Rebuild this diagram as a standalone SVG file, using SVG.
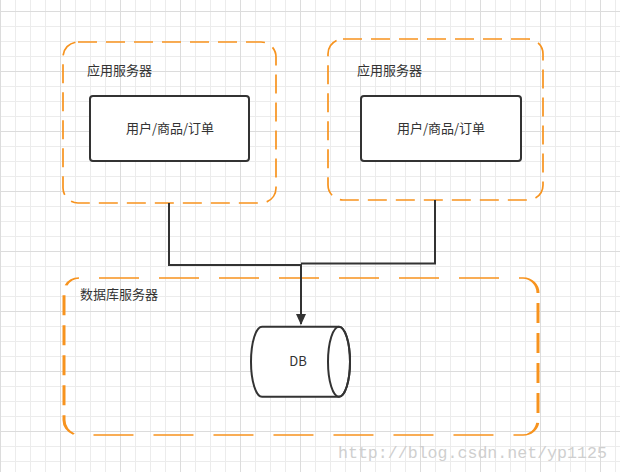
<svg xmlns="http://www.w3.org/2000/svg" width="620" height="472" viewBox="0 0 620 472">
<style>
.lbl{font-family:"Noto Sans CJK SC","Liberation Sans",sans-serif;font-size:13px;fill:#333}
.grp{fill:none;stroke:#f7931e;stroke-width:1.7;stroke-dasharray:19 9}
.node{fill:#fff;stroke:#333;stroke-width:2}
.edge{fill:none;stroke:#333;stroke-width:2}
</style>
<defs>
<pattern id="grid" x="0" y="11" width="60" height="60" patternUnits="userSpaceOnUse">
<path d="M15.5 0V60M30.5 0V60M45.5 0V60M0 15.5H60M0 30.5H60M0 45.5H60" stroke="#ececec" stroke-width="1" fill="none"/>
<path d="M0.5 0V60M0 0.5H60" stroke="#dcdcdc" stroke-width="1" fill="none"/>
</pattern>
<marker id="arr" markerWidth="12" markerHeight="12" refX="10" refY="5" orient="auto" markerUnits="userSpaceOnUse" viewBox="0 0 12 10">
<path d="M0 0L11 5L0 10Z" fill="#333"/>
</marker>
</defs>
<rect width="620" height="472" fill="#fff"/>
<rect width="620" height="472" fill="url(#grid)"/>

<g id="app-server-1">
<rect class="grp" x="63" y="42" width="213" height="161" rx="15" ry="15"/>
<text class="lbl" x="87" y="75">应用服务器</text>
</g>
<g id="app-node-1">
<rect class="node" x="90" y="96" width="159" height="65" rx="3"/>
<text class="lbl" x="170" y="133" text-anchor="middle">用户/商品/订单</text>
</g>

<g id="app-server-2">
<rect class="grp" x="328" y="39" width="215" height="161" rx="15" ry="15"/>
<text class="lbl" x="357" y="75">应用服务器</text>
</g>
<g id="app-node-2">
<rect class="node" x="361" y="96" width="160" height="65" rx="3"/>
<text class="lbl" x="441" y="133" text-anchor="middle">用户/商品/订单</text>
</g>

<g id="db-server">
<g transform="scale(2,1)">
<rect x="32" y="278" width="237" height="157" rx="7.5" ry="15" fill="none" stroke="#f7931e" stroke-width="1.5" stroke-dasharray="20 10" stroke-dashoffset="-10"/>
</g>
<text class="lbl" x="80" y="299">数据库服务器</text>
</g>

<g id="db">
<path class="node" d="M262 326.7H339A11 35 0 0 1 339 396.7H262A11 35 0 0 1 262 326.7Z"/>
<ellipse cx="339" cy="361.7" rx="11" ry="35" fill="none" stroke="#333" stroke-width="2"/>
<text class="lbl" x="298" y="366" text-anchor="middle">DB</text>
</g>

<g id="connectors">
<path class="edge" d="M169 203V265H301V324" marker-end="url(#arr)"/>
<path class="edge" d="M435 200V263.5H301"/>
</g>

<text x="338" y="458" font-family="Liberation Mono,monospace" font-size="16.6" fill="#cfcfcf">http://blog.csdn.net/yp1125</text>
</svg>
